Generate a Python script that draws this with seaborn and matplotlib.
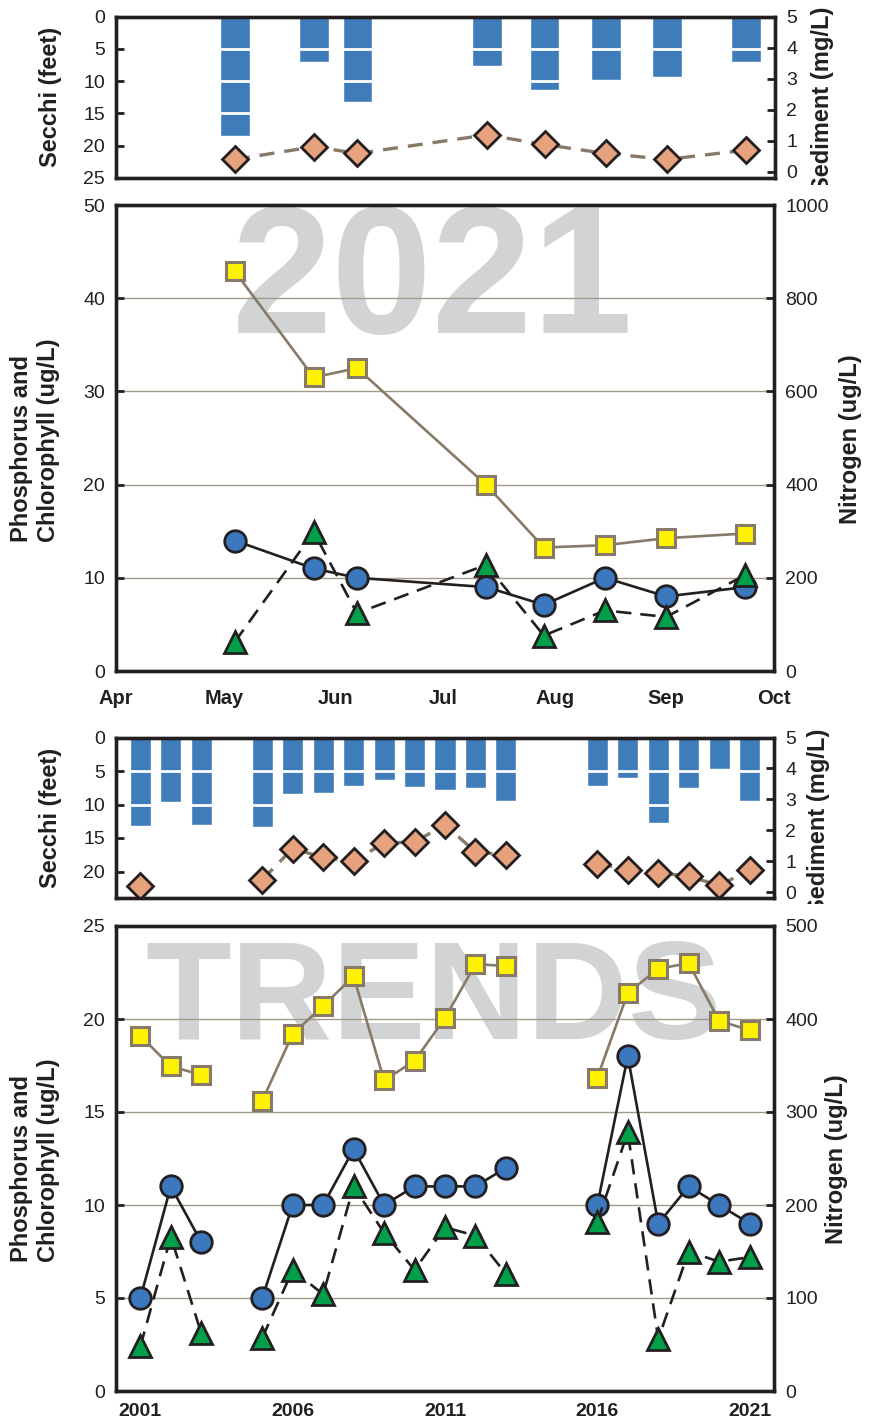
import numpy as np
import pandas as pd
import matplotlib
matplotlib.use("Agg")
import matplotlib.pyplot as plt
import matplotlib.dates as mdates
from matplotlib.transforms import Bbox
import seaborn as sns

# ------------------------------------------------------------------ data
sample_dates_2021 = ["2021-05-04", "2021-05-26", "2021-06-07", "2021-07-13",
                     "2021-07-29", "2021-08-15", "2021-09-01", "2021-09-23"]
secchi_2021 = [18.5, 7.0, 13.2, 7.6, 11.3, 9.8, 9.3, 7.0]
sediment_2021 = [0.40, 0.81, 0.59, 1.19, 0.88, 0.59, 0.40, 0.70]
phosphorus_2021 = [14, 11, 10, 9, 7.1, 10, 8, 9]
chlorophyll_2021 = [3.1, 14.9, 6.2, 11.4, 3.8, 6.5, 5.8, 10.3]
nitrogen_2021 = [858, 630, 650, 399, 265, 270, 285, 295]

month_tick_dates = ["2021-04-01", "2021-05-01", "2021-06-01", "2021-07-01",
                    "2021-08-01", "2021-09-01", "2021-10-01"]
month_labels = ["Apr", "May", "Jun", "Jul", "Aug", "Sep", "Oct"]

trend_years = [2001, 2002, 2003, 2005, 2006, 2007, 2008, 2009, 2010, 2011,
               2012, 2013, 2016, 2017, 2018, 2019, 2020, 2021]
secchi_trend = [13.2, 9.6, 13.1, 13.3, 8.5, 8.3, 7.2, 6.4, 7.4, 7.9,
                7.6, 9.5, 7.3, 6.0, 12.7, 7.6, 4.7, 9.5]
sediment_trend = [0.19, np.nan, np.nan, 0.40, 1.41, 1.12, 1.00, 1.59, 1.62, 2.18,
                  1.30, 1.20, 0.92, 0.73, 0.63, 0.51, 0.22, 0.71]
phosphorus_trend = [5, 11, 8, 5, 10, 10, 13, 10, 11, 11,
                    11, 12, 10, 18, 9, 11, 10, 9]
chlorophyll_trend = [2.4, 8.3, 3.1, 2.85, 6.5, 5.2, 11.0, 8.5, 6.5, 8.8,
                     8.35, 6.3, 9.1, 13.9, 2.8, 7.5, 6.95, 7.2]
nitrogen_trend = [382, 349, 340, 312, 384, 414, 446, 334, 355, 401,
                  459, 457, 337, 428, 454, 460, 398, 388]
year_ticks = [2001, 2006, 2011, 2016, 2021]

# ------------------------------------------------------------------ style
sns.set_style("white")
plt.rcParams["font.family"] = ["Liberation Sans", "DejaVu Sans"]

DARK = "#231f20"
BAR_BLUE = "#3f7cba"
CIRC_BLUE = "#3b78bd"
GREEN = "#00a04b"
YELLOW = "#fff200"
BROWN = "#877a68"
PEACH = "#e6a27c"
GRID = "#a39a8b"
WATER = "#d1d3d4"

W, H = 873, 1426
fig = plt.figure(figsize=(W / 100, H / 100), dpi=100)


def rect(l, t, r, b):
    return [l / W, 1 - b / H, (r - l) / W, (b - t) / H]


def style_axes(ax):
    for sp in ax.spines.values():
        sp.set_linewidth(2.4)
        sp.set_color(DARK)
    ax.tick_params(direction="in", length=5.5, width=2, color=DARK,
                   labelsize=14, labelcolor=DARK, pad=8)


def segments(xs, ys, gap):
    df = pd.DataFrame({"x": xs, "y": ys}).dropna().reset_index(drop=True)
    df["seg"] = (df["x"].diff() > gap).cumsum()
    return df


ax1 = fig.add_axes(rect(116, 16.7, 775, 178))
ax2 = fig.add_axes(rect(116, 205, 774, 671))
ax3 = fig.add_axes(rect(116, 737.5, 774, 898.3))
ax4 = fig.add_axes(rect(116, 926, 774, 1391))

d2021 = mdates.date2num(pd.to_datetime(sample_dates_2021))
mticks = mdates.date2num(pd.to_datetime(month_tick_dates))
tyears = np.array(trend_years, dtype=float)

sed_kw = dict(color=BROWN, lw=2.4, linestyle=(0, (4.5, 3.0)), marker="D",
              markersize=13.5, markerfacecolor=PEACH, markeredgecolor=DARK,
              markeredgewidth=2.0)
phos_kw = dict(color=DARK, lw=1.9, marker="o", markersize=15.5,
               markerfacecolor=CIRC_BLUE, markeredgecolor=DARK,
               markeredgewidth=2.0)
chl_kw = dict(color=DARK, lw=1.9, linestyle=(0, (5.8, 3.4)), marker="^",
              markersize=16, markerfacecolor=GREEN, markeredgecolor=DARK,
              markeredgewidth=2.0)
nit_kw = dict(color=BROWN, lw=1.9, marker="s", markersize=13.5,
              markerfacecolor=YELLOW, markeredgecolor=BROWN,
              markeredgewidth=2.2)


def draw_secchi(ax, x, secchi, sediment, width, xlim, ymax, gap):
    ax.bar(x, secchi, width=width, color=BAR_BLUE, zorder=1)
    ax.set_xlim(*xlim)
    ax.set_ylim(ymax, 0)
    ax.set_yticks([v for v in [0, 5, 10, 15, 20, 25] if v <= ymax])
    ax.set_xticks([])
    ax.yaxis.grid(True, color="white", lw=2.0)
    ax.set_axisbelow(False)
    style_axes(ax)
    axb = ax.twinx()
    df = segments(x, sediment, gap)
    sns.lineplot(data=df, x="x", y="y", units="seg", estimator=None,
                 sort=False, ax=axb, **sed_kw)
    axb.set_ylim(-0.2, 5)
    axb.set_yticks([0, 1, 2, 3, 4, 5])
    axb.set_xlim(*xlim)
    axb.set_xlabel("")
    axb.set_ylabel("")
    style_axes(axb)
    return axb


def draw_chem(ax, x, phos, chl, nit, xlim, ymax, ystep, nmax, nstep, gap,
              wm_text, wm_x, wm_base, wm_size):
    ax.set_xlim(*xlim)
    ax.set_ylim(0, ymax)
    ax.set_yticks(np.arange(0, ymax + 0.1, ystep))
    ax.yaxis.grid(True, color=GRID, lw=1.0)
    ax.set_axisbelow("line")
    ax.text((wm_x - 116) / 658, wm_base, wm_text, transform=ax.transAxes,
            ha="center", va="baseline", fontsize=wm_size, fontweight="bold",
            color=WATER, zorder=0.5)
    dfp = segments(x, phos, gap)
    sns.lineplot(data=dfp, x="x", y="y", units="seg", estimator=None,
                 sort=False, ax=ax, **phos_kw)
    dfc = segments(x, chl, gap)
    sns.lineplot(data=dfc, x="x", y="y", units="seg", estimator=None,
                 sort=False, ax=ax, **chl_kw)
    ax.set_xlabel("")
    ax.set_ylabel("")
    style_axes(ax)
    axb = ax.twinx()
    dfn = segments(x, nit, gap)
    sns.lineplot(data=dfn, x="x", y="y", units="seg", estimator=None,
                 sort=False, ax=axb, **nit_kw)
    axb.set_ylim(0, nmax)
    axb.set_yticks(np.arange(0, nmax + 1, nstep))
    axb.set_xlim(*xlim)
    axb.set_xlabel("")
    axb.set_ylabel("")
    style_axes(axb)
    return axb


# ---- 2021 panels
xlim21 = (mticks[0], mticks[-1])
draw_secchi(ax1, d2021, secchi_2021, sediment_2021, 8.2, xlim21, 25, 1e9)
ax2b = draw_chem(ax2, d2021, phosphorus_2021, chlorophyll_2021, nitrogen_2021,
                 xlim21, 50, 10, 1000, 200, 1e9,
                 "2021", 432, (671 - 333) / 466, 130)
ax2.set_xticks(mticks)
ax2.set_xticklabels(month_labels, fontsize=14.5, fontweight="bold")
ax2.tick_params(axis="x", pad=13)

# ---- trend panels
xlimT = (2000.2, 2021.8)
draw_secchi(ax3, tyears, secchi_trend, sediment_trend, 0.69, xlimT, 24, 1.5)
ax4b = draw_chem(ax4, tyears, phosphorus_trend, chlorophyll_trend,
                 nitrogen_trend, xlimT, 25, 5, 500, 100, 1.5,
                 "TRENDS", 434, (1391 - 1039) / 465, 101)
ax4.set_xticks(year_ticks)
ax4.set_xticklabels([str(y) for y in year_ticks], fontsize=14,
                    fontweight="bold")
ax4.tick_params(axis="x", pad=9)


# ---- axis titles
def ftext(x, y, s, clip_bottom=None, **kw):
    t = fig.text(x / W, 1 - y / H, s, rotation=90, ha="center", va="center",
                 fontsize=17, fontweight="bold", color=DARK, **kw)
    if clip_bottom is not None:
        t.set_clip_box(Bbox.from_extents(0, H - clip_bottom, W, H))
        t.set_clip_on(True)
    return t


ftext(50, 97, "Secchi (feet)")
ftext(50, 818, "Secchi (feet)")
ftext(35, 440, "Phosphorus and\nChlorophyll (ug/L)", multialignment="left")
ftext(35, 1160, "Phosphorus and\nChlorophyll (ug/L)", multialignment="left")
ftext(823, 99, "Sediment (mg/L)", clip_bottom=185)
ftext(818, 821, "Sediment (mg/L)", clip_bottom=904)
ftext(850, 439, "Nitrogen (ug/L)")
ftext(837, 1159, "Nitrogen (ug/L)")

fig.savefig("out.png", dpi=100)
